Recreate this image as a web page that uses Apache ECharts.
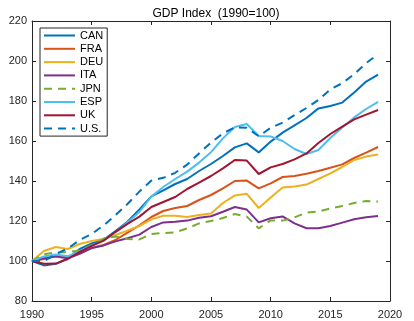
<!DOCTYPE html>
<html>
<head>
<meta charset="utf-8">
<script src="https://cdn.jsdelivr.net/npm/echarts@6/dist/echarts.min.js"></script>
<style>
html,body{margin:0;padding:0;background:#fff;}
#chart{width:414px;height:321px;}
</style>
</head>
<body>
<div id="chart"></div>
<script>
const years = [1990,1991,1992,1993,1994,1995,1996,1997,1998,1999,2000,2001,2002,2003,2004,2005,2006,2007,2008,2009,2010,2011,2012,2013,2014,2015,2016,2017,2018,2019];
const CAN = [100,97.8,98.6,101.3,106.0,108.8,110.6,115.0,119.6,125.8,132.3,135.3,138.5,141.0,145.0,148.5,152.5,156.8,158.8,154.3,159.7,164.2,167.8,171.5,176.3,177.5,179.2,184.2,189.7,193.2];
const FRA = [100,101.0,102.6,101.9,104.3,106.5,108.0,110.5,114.2,117.8,122.0,125.0,126.5,127.5,130.5,133.0,136.3,140.0,140.2,136.3,138.8,142.0,142.5,143.6,145.0,146.6,148.3,151.5,154.2,157.0];
const DEU = [100,105.0,107.0,106.0,108.5,110.0,111.0,113.0,115.2,117.5,120.8,122.6,122.6,122.0,123.0,123.8,129.0,132.8,133.6,126.5,131.8,136.8,137.3,138.2,141.0,143.8,147.0,150.5,152.2,153.2];
const ITA = [100,101.4,102.2,101.4,103.6,106.5,107.8,109.8,111.4,113.2,117.0,119.3,119.6,120.2,121.6,122.4,124.6,127.0,125.7,119.3,121.4,122.3,118.8,116.4,116.4,117.5,119.2,120.9,121.9,122.5];
const JPN = [100,103.4,104.2,104.4,105.3,108.0,111.2,112.3,111.0,110.8,113.5,114.0,114.3,116.3,118.8,120.0,121.5,123.5,122.2,116.3,120.3,120.2,121.8,124.2,124.7,126.3,127.5,129.0,130.0,129.7];
const ESP = [100,102.3,103.3,102.4,104.8,107.6,110.3,114.4,119.2,124.5,132.2,137.0,141.0,144.7,149.2,154.4,161.3,167.0,168.5,162.5,162.3,160.0,156.0,153.5,155.5,161.5,166.8,171.8,176.0,179.6];
const UK  = [100,98.6,98.7,101.0,104.6,107.6,110.2,114.6,118.6,122.2,127.0,129.5,132.0,136.0,139.2,142.5,146.3,150.5,150.2,143.5,146.8,148.5,150.8,153.8,159.0,163.5,167.2,170.8,173.2,175.5];
const US  = [100,99.9,103.4,106.3,110.5,113.5,117.8,123.0,128.5,134.7,140.2,141.6,144.1,148.2,153.8,159.2,163.8,166.9,166.6,162.4,166.6,169.2,172.9,176.5,180.5,185.8,188.9,193.4,199.0,203.3];
const names = ['CAN','FRA','DEU','ITA','JPN','ESP','UK','U.S.'];
const xTicks = [1990,1995,2000,2005,2010,2015,2020];
const yTicks = [80,100,120,140,160,180,200,220];

const seriesData = [CAN,FRA,DEU,ITA,JPN,ESP,UK,US];
const colors = ['#0072BD','#D95319','#EDB120','#7E2F8E','#77AC30','#4DBEEE','#A2142F','#0072BD'];
const dashed = [false,false,false,false,true,false,false,true];

const chart = echarts.init(document.getElementById('chart'), null, {renderer:'canvas'});
const axisColor = '#262626';
const font = 'Liberation Sans, Arial, sans-serif';
const option = {
  animation:false,
  backgroundColor:'#fff',
  title:{text:'GDP Index  (1990=100)', left:211, textAlign:'center', top:3,
    textStyle:{fontFamily:font,fontSize:12,fontWeight:'normal',color:'#000'}},
  legend:{
    orient:'vertical', left:40, top:28,
    data:names,
    itemWidth:31, itemHeight:13, itemGap:0.3,
    padding:[1,4,1,3],
    borderColor:axisColor, borderWidth:1, backgroundColor:'#fff',
    itemStyle:{opacity:0},
    lineStyle:{width:2},
    textStyle:{fontFamily:font,fontSize:11,color:'#000',lineHeight:13}
  },
  grid:{left:32,right:24,top:21,bottom:20,show:false},
  xAxis:[
    {type:'value',min:1990,max:2020,interval:5,
      axisLine:{show:true,lineStyle:{color:axisColor,width:1}},
      axisTick:{show:true,inside:true,length:4,lineStyle:{color:axisColor}},
      axisLabel:{fontFamily:font,fontSize:11,color:axisColor,margin:8,
        formatter:v=>xTicks.includes(v)?String(v):''},
      splitLine:{show:false}},
    {type:'value',position:'top',min:1990,max:2020,interval:5,
      axisLine:{show:true,onZero:false,lineStyle:{color:axisColor,width:1}},
      axisTick:{show:true,inside:true,length:4,lineStyle:{color:axisColor}},
      axisLabel:{show:false},splitLine:{show:false}}
  ],
  yAxis:[
    {type:'value',min:80,max:220,interval:20,
      axisLine:{show:true,lineStyle:{color:axisColor,width:1}},
      axisTick:{show:true,inside:true,length:4,lineStyle:{color:axisColor}},
      axisLabel:{fontFamily:font,fontSize:11,color:axisColor,margin:5,
        formatter:v=>yTicks.includes(v)?String(v):''},
      splitLine:{show:false}},
    {type:'value',position:'right',min:80,max:220,interval:20,
      axisLine:{show:true,onZero:false,lineStyle:{color:axisColor,width:1}},
      axisTick:{show:true,inside:true,length:4,lineStyle:{color:axisColor}},
      axisLabel:{show:false},splitLine:{show:false}}
  ],
  series: names.map((n,i)=>({
    name:n, type:'line', xAxisIndex:0, yAxisIndex:0,
    data: years.map((y,j)=>[y, seriesData[i][j]]),
    symbol:'none', smooth:false,
    lineStyle:{color:colors[i], width:2, type: dashed[i]?[8,6]:'solid'},
    itemStyle:{color:colors[i]},
    z: 2+i
  }))
};
chart.setOption(option);
</script>
</body>
</html>
